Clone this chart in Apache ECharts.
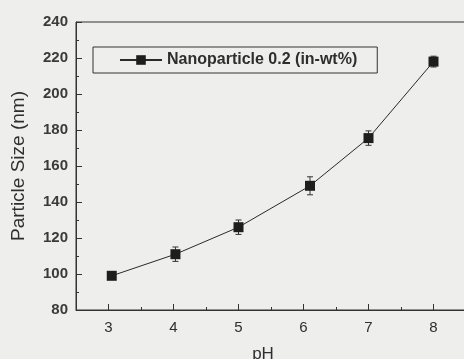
<!DOCTYPE html>
<html>
<head>
<meta charset="utf-8">
<script src="https://cdn.jsdelivr.net/npm/echarts@6/dist/echarts.min.js"></script>
<style>html,body{margin:0;padding:0;background:#eeeeec;}#c{width:464px;height:359px;}</style>
</head>
<body>
<div id="c"></div>
<script>
var seriesName = 'Nanoparticle 0.2 (in-wt%)';
var phValues = [3.05, 4.03, 5.0, 6.1, 7.0, 8.0];
var sizeValues = [99, 111, 126, 149, 175.5, 218];
var sizeErrors = [2, 4, 4, 5, 4, 3];
var xTickLabels = [3, 4, 5, 6, 7, 8];
var yTickLabels = [80, 100, 120, 140, 160, 180, 200, 220, 240];

var lineData = phValues.map(function (x, i) { return [x, sizeValues[i]]; });
var errData = phValues.map(function (x, i) { return [x, sizeValues[i] - sizeErrors[i], sizeValues[i] + sizeErrors[i]]; });

var chart = echarts.init(document.getElementById('c'), null, {renderer: 'canvas'});
var textColor = '#2e2e2e';
chart.setOption({
  backgroundColor: '#eeeeec',
  animation: false,
  grid: {left: 76, top: 22, right: -2, bottom: 49, show: true, borderColor: '#333', borderWidth: 1, backgroundColor: 'transparent', outerBoundsMode: 'none', containLabel: false},
  legend: {
    left: 93, top: 47,
    data: [seriesName],
    borderColor: '#333', borderWidth: 1,
    padding: [5, 20, 5, 26],
    itemWidth: 42, itemHeight: 12,
    itemGap: 0,
    textStyle: {fontFamily: 'Liberation Sans, Arial', fontSize: 16, fontWeight: 'bold', color: textColor}
  },
  xAxis: [{
    type: 'value', min: 2.5, max: 8.5, interval: 0.5,
    name: 'pH', nameLocation: 'middle', nameGap: 36,
    nameTextStyle: {fontFamily: 'Liberation Sans, Arial', fontSize: 17, color: textColor, padding: [0, 16, 0, 0]},
    axisLine: {lineStyle: {color: '#333', width: 1}},
    axisTick: {inside: true, length: 6, lineStyle: {color: '#333'}, customValues: xTickLabels},
    axisLabel: {fontFamily: 'Liberation Sans, Arial', fontSize: 15, color: textColor, margin: 10, customValues: xTickLabels},
    splitLine: {show: false}
  }, {
    type: 'value', min: 2.5, max: 8.5, interval: 0.5, position: 'bottom',
    axisLine: {show: false},
    axisTick: {inside: true, length: 3, lineStyle: {color: '#333'}},
    axisLabel: {show: false},
    splitLine: {show: false}
  }],
  yAxis: {
    type: 'value', min: 80, max: 240, interval: 20,
    name: 'Particle Size (nm)', nameLocation: 'middle', nameGap: 48,
    nameTextStyle: {fontFamily: 'Liberation Sans, Arial', fontSize: 19, color: textColor},
    axisLine: {show: true, lineStyle: {color: '#333', width: 1}},
    axisTick: {inside: true, length: 6, lineStyle: {color: '#333'}},
    minorTick: {show: true, splitNumber: 2, length: 3, lineStyle: {color: '#333'}},
    axisLabel: {fontFamily: 'Liberation Sans, Arial', fontSize: 15, fontWeight: 'bold', color: '#3a3a3a', margin: 8,
      formatter: function (v) { return yTickLabels.indexOf(v) >= 0 ? String(v) : ''; }},
    splitLine: {show: false}
  },
  series: [{
    name: seriesName, type: 'line', data: lineData,
    symbol: 'rect', symbolSize: 10,
    lineStyle: {color: '#2a2a2a', width: 1},
    itemStyle: {color: '#1e1e1e'},
    z: 3
  }, {
    type: 'custom', data: errData, z: 2,
    renderItem: function (params, api) {
      var x = api.value(0);
      var lo = api.coord([x, api.value(1)]);
      var hi = api.coord([x, api.value(2)]);
      var w = 3;
      var st = {stroke: '#333', lineWidth: 1};
      return {type: 'group', children: [
        {type: 'line', shape: {x1: lo[0], y1: lo[1], x2: hi[0], y2: hi[1]}, style: st},
        {type: 'line', shape: {x1: lo[0] - w, y1: lo[1], x2: lo[0] + w, y2: lo[1]}, style: st},
        {type: 'line', shape: {x1: hi[0] - w, y1: hi[1], x2: hi[0] + w, y2: hi[1]}, style: st}
      ]};
    }
  }]
});
</script>
</body>
</html>
